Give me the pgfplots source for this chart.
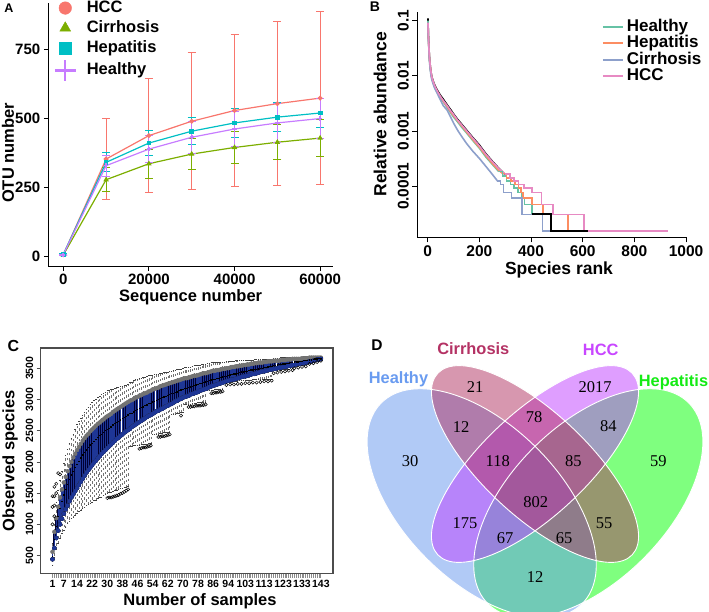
\documentclass[border=0pt]{standalone}
\usepackage{pgfplots}
\pgfplotsset{compat=1.18}
\usepackage{pgfplotstable}
\usepackage{fontspec}
\setmainfont{Liberation Sans}
\newfontfamily\timesf{Liberation Serif}
\newcommand{\fsz}[1]{\fontsize{#1}{#1}\selectfont}
\definecolor{HCCc}{HTML}{F8766D}
\definecolor{CIRc}{HTML}{7CAE00}
\definecolor{HEPc}{HTML}{00BFC4}
\definecolor{HEAc}{HTML}{C77CFF}
\definecolor{Bteal}{HTML}{66C2A5}
\definecolor{Borange}{HTML}{FC8D62}
\definecolor{Bblue}{HTML}{8DA0CB}
\definecolor{Bpink}{HTML}{E78AC3}
\definecolor{boxblue}{RGB}{30,54,150}
\definecolor{Vhea}{RGB}{100,149,237}
\definecolor{Vcir}{RGB}{176,48,96}
\definecolor{Vhcc}{RGB}{191,62,255}
\definecolor{Vhep}{RGB}{0,255,0}
\definecolor{Thea}{RGB}{105,155,240}
\definecolor{Tcir}{RGB}{180,50,100}
\definecolor{Thcc}{RGB}{200,70,255}
\definecolor{Thep}{RGB}{20,235,20}
\pgfplotsset{/pgf/number format/1000 sep={}}
\pgfplotsset{
  markleg/.style={legend image code/.code={%
    \path[draw=none, fill=none] (0pt,-6pt) rectangle (20pt,6pt);
    \draw[##1, mark size=6.3pt] plot coordinates {(10pt,0pt)};}},
  plusleg/.style={legend image code/.code={%
    \path[draw=none, fill=none] (0pt,-6pt) rectangle (20pt,6pt);
    \draw[##1, mark size=10.5pt, mark options={line width=2.2pt}] plot coordinates {(10pt,0pt)};}},
  lineleg/.style={legend image code/.code={\draw[##1, line width=2pt] (0pt,0pt) -- (20pt,0pt);}},
}

% ---------- Panel A data ----------
\pgfplotstableread{
x y e
0 5 2
10000 352 147
20000 437 206
30000 489 249
40000 528 276
50000 553 297
60000 573 313
}\tblHCC
\pgfplotstableread{
x y e
0 4 2
10000 277 43
20000 335 52
30000 370 57
40000 394 59
50000 413 63
60000 428 66
}\tblCIR
\pgfplotstableread{
x y e
0 6 2
10000 340 35
20000 410 46
30000 453 48
40000 483 52
50000 504 53
60000 519 54
}\tblHEP
\pgfplotstableread{
x y e
0 5 2
10000 328 38
20000 388 50
30000 431 58
40000 461 65
50000 483 70
60000 499 73
}\tblHEA

% ---------- Panel B data ----------
\pgfplotstableread{
r v
1 0.11
2 0.07
3 0.05
5 0.031
7 0.021
10 0.015
13 0.0115
16 0.0096
20 0.0084
25 0.0072
30 0.0064
40 0.0052
50 0.0044
60 0.0038
75 0.0030
90 0.0024
100 0.00205
115 0.00165
130 0.00136
150 0.00105
175 0.00076
200 0.00056
225 0.00039
250 0.000285
275 0.000212
300 0.000162
}\tblBkU
\pgfplotstableread{
r v
403 3.1e-5
478 1.55e-5
622 1.55e-5
}\tblBkT
\pgfplotstableread{
r v
1 0.10
2 0.066
3 0.046
5 0.028
7 0.019
10 0.0135
13 0.0105
16 0.009
20 0.0078
25 0.0066
30 0.0058
40 0.0047
50 0.0039
60 0.0034
75 0.0027
90 0.0021
100 0.0018
115 0.00148
130 0.0012
150 0.00093
175 0.00067
200 0.00049
225 0.00034
250 0.00025
275 0.000185
}\tblTeU
\pgfplotstableread{
r v
275 1.85e-4
290 1.55e-4
305 1.24e-4
320 1.085e-4
335 9.3e-5
350 7.75e-5
365 6.2e-5
375 4.65e-5
403 3.1e-5
476 1.55e-5
560 1.55e-5
}\tblTeT
\pgfplotstableread{
r v
1 0.09
2 0.063
3 0.047
5 0.029
7 0.020
10 0.0145
13 0.011
16 0.0092
20 0.008
25 0.0068
30 0.006
40 0.0049
50 0.0041
60 0.0035
75 0.0028
90 0.0022
100 0.0019
115 0.00155
130 0.00127
150 0.00097
175 0.0007
200 0.00051
225 0.00036
250 0.00026
275 0.000195
290 0.00017
}\tblOrU
\pgfplotstableread{
r v
290 1.7e-4
305 1.4e-4
322 1.24e-4
338 1.085e-4
352 9.3e-5
362 7.75e-5
370 6.2e-5
403 4.65e-5
447 3.1e-5
542 1.55e-5
620 1.55e-5
}\tblOrT
\pgfplotstableread{
r v
1 0.088
2 0.06
3 0.044
5 0.027
7 0.018
10 0.0128
13 0.010
16 0.0085
20 0.0074
25 0.0063
30 0.0056
40 0.0045
50 0.0036
60 0.0029
75 0.0024
90 0.00175
100 0.0014
115 0.00105
130 0.00082
150 0.0006
175 0.00043
200 0.00032
225 0.00023
250 0.000165
270 0.000125
}\tblBlU
\pgfplotstableread{
r v
270 1.24e-4
282 1.085e-4
293 7.75e-5
325 6.2e-5
364 3.1e-5
445 1.55e-5
478 1.55e-5
}\tblBlT
\pgfplotstableread{
r v
1 0.092
2 0.065
3 0.048
5 0.030
7 0.021
10 0.015
13 0.0115
16 0.0095
20 0.0082
25 0.0070
30 0.0062
40 0.0050
50 0.0042
60 0.0036
75 0.0029
90 0.0023
100 0.0020
115 0.0016
130 0.00132
150 0.00102
175 0.00074
200 0.00054
225 0.00038
250 0.00028
275 0.00021
300 0.000165
}\tblPiU
\pgfplotstableread{
r v
300 1.65e-4
318 1.40e-4
335 1.24e-4
352 1.085e-4
372 9.3e-5
403 7.75e-5
441 4.65e-5
486 3.1e-5
606 1.55e-5
931 1.55e-5
}\tblPiT

% ---------- Panel C data ----------
\pgfplotstableread{
n lw qa md qc uw
1 340 440 490 560 700
2 480 620 760 880 1100
3 600 780 960 1100 1350
4 700 900 1120 1280 1550
5 780 1000 1250 1430 1700
6 850 1090 1370 1560 1850
7 910 1170 1470 1670 1980
8 960 1240 1560 1760 2100
9 1010 1300 1640 1850 2200
10 1050 1370 1720 1930 2300
11 1090 1430 1790 2000 2380
12 1120 1480 1850 2070 2450
13 1150 1530 1910 2130 2530
14 1180 1580 1960 2190 2600
15 1210 1630 2010 2240 2650
16 1230 1680 2060 2290 2700
17 1260 1730 2110 2340 2750
18 1280 1780 2150 2380 2800
19 1300 1830 2190 2420 2840
20 1320 1870 2230 2450 2880
21 1340 1910 2270 2490 2920
22 1360 1950 2300 2520 2950
23 1380 1990 2330 2550 2980
24 1390 2020 2360 2580 3000
25 1410 2060 2390 2610 3030
26 1430 2090 2420 2630 3050
27 1440 2130 2440 2660 3080
28 1460 2160 2470 2680 3100
29 1480 2190 2500 2710 3120
30 1500 2220 2520 2730 3140
31 1510 2250 2540 2750 3150
32 1520 2280 2560 2770 3160
33 1530 2310 2590 2800 3170
34 1540 2340 2610 2820 3180
35 1550 2370 2630 2840 3190
36 1560 2390 2650 2860 3200
37 1570 2420 2670 2880 3210
38 1580 2440 2690 2900 3210
39 1590 2470 2710 2920 3220
40 1600 2490 2730 2940 3230
41 1610 2510 2750 2960 3250
42 2250 2530 2770 2980 3270
43 2250 2560 2780 2990 3280
44 2260 2580 2800 3010 3300
45 2260 2600 2820 3030 3320
46 2270 2620 2840 3040 3330
47 2270 2640 2850 3060 3340
48 2280 2660 2870 3070 3340
49 2280 2680 2880 3090 3350
50 2290 2700 2900 3100 3360
51 2290 2720 2910 3110 3370
52 2300 2740 2930 3130 3380
53 2300 2750 2940 3140 3380
54 2440 2770 2960 3160 3390
55 2440 2790 2970 3170 3400
56 2450 2810 2980 3180 3410
57 2450 2820 3000 3190 3410
58 2460 2840 3010 3210 3420
59 2460 2850 3030 3220 3420
60 2470 2870 3040 3230 3430
61 2470 2890 3050 3240 3440
62 2480 2900 3060 3250 3440
63 2480 2920 3080 3260 3450
64 2760 2930 3090 3270 3450
65 2770 2950 3100 3280 3460
66 2770 2970 3110 3290 3470
67 2780 2980 3120 3300 3480
68 2780 3000 3140 3310 3480
69 2790 3010 3150 3320 3490
70 2790 3030 3160 3330 3500
71 2920 3040 3170 3340 3510
72 2920 3050 3180 3340 3510
73 2930 3060 3190 3350 3520
74 2930 3080 3200 3360 3520
75 2940 3090 3210 3370 3530
76 2940 3100 3220 3380 3540
77 2940 3110 3230 3380 3540
78 2950 3120 3240 3390 3550
79 2950 3140 3250 3400 3550
80 2950 3150 3260 3410 3560
81 2960 3160 3270 3420 3570
82 2960 3170 3280 3420 3570
83 3140 3180 3290 3430 3580
84 3140 3200 3300 3440 3580
85 3150 3210 3310 3450 3590
86 3150 3220 3320 3460 3590
87 3160 3230 3320 3460 3590
88 3160 3240 3330 3470 3600
89 3160 3250 3340 3470 3600
90 3170 3260 3350 3480 3600
91 3170 3270 3360 3490 3600
92 3260 3280 3370 3490 3600
93 3260 3290 3370 3500 3610
94 3270 3300 3380 3500 3610
95 3280 3310 3390 3510 3610
96 3280 3320 3400 3520 3610
97 3290 3320 3410 3520 3610
98 3290 3330 3410 3530 3620
99 3290 3340 3420 3530 3620
100 3300 3350 3430 3540 3620
101 3300 3360 3440 3540 3620
102 3300 3370 3440 3550 3620
103 3310 3370 3450 3550 3630
104 3310 3380 3450 3560 3630
105 3310 3390 3460 3560 3630
106 3310 3400 3470 3570 3630
107 3320 3410 3470 3570 3630
108 3320 3410 3480 3580 3640
109 3320 3420 3480 3580 3640
110 3320 3430 3490 3590 3640
111 3320 3440 3500 3590 3640
112 3330 3450 3500 3590 3640
113 3330 3450 3510 3600 3650
114 3330 3460 3510 3600 3650
115 3330 3470 3520 3610 3650
116 3330 3480 3530 3610 3650
117 3330 3480 3530 3610 3650
118 3460 3490 3540 3620 3660
119 3460 3490 3540 3620 3660
120 3470 3500 3550 3620 3660
121 3470 3510 3560 3620 3660
122 3470 3510 3560 3630 3670
123 3480 3520 3570 3630 3670
124 3480 3520 3570 3630 3670
125 3490 3530 3580 3640 3670
126 3490 3540 3580 3640 3670
127 3500 3540 3590 3640 3670
128 3500 3550 3590 3650 3680
129 3530 3550 3600 3650 3680
130 3530 3560 3600 3650 3680
131 3540 3570 3600 3650 3680
132 3540 3570 3610 3650 3680
133 3550 3580 3610 3660 3680
134 3550 3580 3620 3660 3690
135 3560 3590 3620 3660 3690
136 3560 3600 3620 3660 3690
137 3590 3610 3630 3670 3690
138 3590 3610 3630 3670 3690
139 3600 3620 3640 3670 3690
140 3610 3630 3650 3670 3690
141 3620 3640 3650 3670 3690
142 3630 3640 3660 3670 3690
143 3640 3650 3660 3670 3690
}\tblC
\pgfplotstableread{
n v
1 1000
1 1280
1 1450
2 1130
2 1300
2 1450
2 1600
3 1500
3 1650
4 1820
5 1800
30 1420
31 1430
32 1430
33 1440
34 1450
35 1460
36 1470
37 1490
38 1500
39 1520
40 1540
41 1560
47 2210
48 2220
49 2230
50 2230
51 2240
52 2250
53 2260
57 2400
58 2400
59 2410
60 2410
61 2420
62 2430
63 2440
69 2740
73 2880
74 2880
75 2890
76 2890
77 2900
78 2900
79 2900
80 2910
81 2910
82 2920
85 3100
86 3100
87 3110
88 3110
89 3120
90 3120
91 3130
93 3230
95 3240
97 3240
99 3250
101 3250
103 3260
105 3260
107 3270
109 3270
111 3280
113 3290
115 3290
117 3300
118 3420
120 3430
122 3440
124 3450
126 3460
128 3470
129 3500
131 3510
133 3520
135 3530
137 3570
139 3580
141 3600
143 3620
}\tblCout

\begin{document}
\begin{tikzpicture}
\path[use as bounding box] (0pt,0pt) rectangle (709pt,-611pt);

% ================= Panel A =================
\begin{axis}[at={(48.3pt,-266pt)}, anchor=south west, scale only axis,
  width=284.7pt, height=263pt,
  xmin=-3500, xmax=63000, ymin=-36, ymax=918,
  axis x line*=bottom, axis y line*=left,
  axis line style={-, line width=1pt, black},
  xtick={0,20000,40000,60000}, ytick={0,250,500,750},
  scaled x ticks=false,
  /pgf/number format/assume math mode=true,
  tick label style={font=\bfseries\fsz{15}},
  tick align=outside, major tick length=4.5pt, tick style={line width=1pt, black},
  xlabel={Sequence number}, ylabel={OTU number},
  label style={font=\bfseries\fsz{16.5}},
  xlabel style={at={(axis description cs:0.5,-0.118)}, anchor=center},
  ylabel style={at={(axis description cs:-0.142,0.43)}, anchor=center},
  clip=false,
  legend cell align=left,
  legend style={at={(axis description cs:0.022,1.012)}, anchor=north west, draw=none, fill=none,
    font=\bfseries\fsz{16.5}, row sep=4pt, column sep=11pt, inner sep=0pt,
    nodes={inner sep=0pt, text height=12pt, text depth=4pt}},
  markleg,
]
\addlegendimage{HCCc, mark=*}
\addlegendentry{HCC}
\addlegendimage{CIRc, mark=triangle*}
\addlegendentry{Cirrhosis}
\addlegendimage{HEPc, mark=square*}
\addlegendentry{Hepatitis}
\addlegendimage{HEAc, mark=+, plusleg}
\addlegendentry{Healthy}
\addplot[HCCc, line width=1.2pt, mark=*, mark size=1.8pt, forget plot,
  error bars/.cd, y dir=both, y explicit,
  error bar style={line width=1pt}, error mark options={rotate=90, mark size=4pt, line width=1pt}]
  table[x=x, y=y, y error=e] {\tblHCC};
\addplot[CIRc, line width=1.2pt, mark=triangle*, mark size=2pt, forget plot,
  error bars/.cd, y dir=both, y explicit,
  error bar style={line width=1pt}, error mark options={rotate=90, mark size=4pt, line width=1pt}]
  table[x=x, y=y, y error=e] {\tblCIR};
\addplot[HEPc, line width=1.2pt, mark=square*, mark size=1.8pt, forget plot,
  error bars/.cd, y dir=both, y explicit,
  error bar style={line width=1pt}, error mark options={rotate=90, mark size=4pt, line width=1pt}]
  table[x=x, y=y, y error=e] {\tblHEP};
\addplot[HEAc, line width=1.2pt, mark=+, mark size=2.2pt, mark options={line width=1.6pt}, forget plot,
  error bars/.cd, y dir=both, y explicit,
  error bar style={line width=1pt}, error mark options={rotate=90, mark size=4pt, line width=1pt}]
  table[x=x, y=y, y error=e] {\tblHEA};
\end{axis}

% ================= Panel B =================
\begin{axis}[at={(417.3pt,-237.3pt)}, anchor=south west, scale only axis,
  width=269.4pt, height=225.6pt,
  xmin=-40.3, xmax=1002.7, ymode=log, ymin=1.19e-5, ymax=0.1456,
  axis x line*=bottom, axis y line*=left,
  axis line style={-, line width=1pt, black},
  xtick={0,200,400,600,800,1000},
  ytick={0.1,0.01,0.001,0.0001}, yticklabels={0.1,0.01,0.001,0.0001},
  yminorticks=false,
  /pgf/number format/assume math mode=true,
  tick label style={font=\bfseries\fsz{15.5}},
  yticklabel style={rotate=90, anchor=south},
  tick align=outside, major tick length=5pt, tick style={line width=1pt, black},
  xlabel={Species rank}, ylabel={Relative abundance},
  label style={font=\bfseries\fsz{17.5}},
  xlabel style={at={(axis description cs:0.526,-0.145)}, anchor=center},
  ylabel style={at={(axis description cs:-0.138,0.545)}, anchor=center},
  legend cell align=left,
  legend style={at={(axis description cs:0.684,0.966)}, anchor=north west, draw=none, fill=none,
    font=\bfseries\fsz{17}, row sep=1.3pt, inner sep=0pt, column sep=3pt,
    nodes={inner sep=0pt, text height=12pt, text depth=3pt}},
  lineleg,
]
\addplot[black, line width=1.6pt, forget plot] table[x=r, y=v] {\tblBkU};
\addplot[Bteal, line width=1.6pt] table[x=r, y=v] {\tblTeU};
\addlegendentry{Healthy}
\addplot[Borange, line width=1.6pt] table[x=r, y=v] {\tblOrU};
\addlegendentry{Hepatitis}
\addplot[Bblue, line width=1.6pt] table[x=r, y=v] {\tblBlU};
\addlegendentry{Cirrhosis}
\addplot[Bpink, line width=1.6pt] table[x=r, y=v] {\tblPiU};
\addlegendentry{HCC}
\addplot[Bteal, line width=1.6pt, const plot, forget plot] table[x=r, y=v] {\tblTeT};
\addplot[Borange, line width=1.6pt, const plot, forget plot] table[x=r, y=v] {\tblOrT};
\addplot[Bblue, line width=1.6pt, const plot, forget plot] table[x=r, y=v] {\tblBlT};
\addplot[Bpink, line width=1.6pt, const plot, forget plot] table[x=r, y=v] {\tblPiT};
\addplot[black, line width=2.2pt, const plot, forget plot] table[x=r, y=v] {\tblBkT};
\end{axis}

% ================= Panel C =================
\begin{axis}[at={(40.7pt,-573.5pt)}, anchor=south west, scale only axis,
  width=292.3pt, height=225.5pt,
  xmin=-5.24, xmax=149.4, ymin=212, ymax=3824,
  axis line style={line width=1.2pt, black!70},
  tick pos=left, clip=false,
  xtick=\empty,
  extra x ticks={1,7,14,22,30,38,46,54,62,70,78,86,94,103,113,123,133,143},
  extra x tick labels={1,7,14,22,30,38,46,54,62,70,78,86,94,103,113,123,133,143},
  extra x tick style={major tick length=0pt, xticklabel style={font=\bfseries\fsz{10.5}, yshift=-3pt}},
  ytick={500,1000,1500,2000,2500,3000,3500},
  /pgf/number format/assume math mode=true,
  yticklabel style={rotate=90, anchor=south, font=\bfseries\fsz{10.5}},
  tick align=outside, major tick length=4pt, tick style={line width=0.5pt, black!70},
  xlabel={Number of samples}, ylabel={Observed species},
  label style={font=\bfseries\fsz{16.5}},
  xlabel style={at={(axis description cs:0.545,-0.125)}, anchor=center},
  ylabel style={at={(axis description cs:-0.105,0.5)}, anchor=center},
]
% tick marks at every box position, just below the frame
\addplot[only marks, mark=|, mark size=2.4pt, mark options={line width=0.95pt, black!45}, forget plot]
  table[x=n, y expr=172] {\tblC};
% lower whiskers
\addplot[only marks, mark=none, black!55, forget plot,
  error bars/.cd, y dir=minus, y explicit,
  error bar style={dash pattern=on 2.4pt off 3pt, line width=0.55pt, black!55},
  error mark options={rotate=90, mark size=0.76pt, solid, line width=0.55pt, black!75}]
  table[x=n, y=qa, y error minus expr=\thisrow{qa}-\thisrow{lw}] {\tblC};
% upper whiskers
\addplot[only marks, mark=none, black!55, forget plot,
  error bars/.cd, y dir=plus, y explicit,
  error bar style={dash pattern=on 2.4pt off 3pt, line width=0.55pt, black!55},
  error mark options={rotate=90, mark size=0.76pt, solid, line width=0.55pt, black!75}]
  table[x=n, y=qc, y error plus expr=\thisrow{uw}-\thisrow{qc}] {\tblC};
% boxes: black outline then blue fill
\addplot[only marks, mark=none, black, forget plot,
  error bars/.cd, y dir=plus, y explicit, error mark=none,
  error bar style={solid, line width=1.85pt, black!80!blue}]
  table[x=n, y=qa, y error plus expr=\thisrow{qc}-\thisrow{qa}] {\tblC};
\addplot[only marks, mark=none, boxblue, forget plot,
  error bars/.cd, y dir=plus, y explicit, error mark=none,
  error bar style={solid, line width=1.25pt, boxblue}]
  table[x=n, y=qa, y error plus expr=\thisrow{qc}-\thisrow{qa}] {\tblC};
% medians
\addplot[only marks, mark=-, mark size=0.8pt, mark options={line width=1.3pt, black}]
  table[x=n, y=md] {\tblC};
% outliers
\addplot[only marks, mark=o, mark size=1.6pt, mark options={line width=0.5pt, black}]
  table[x=n, y=v] {\tblCout};
\end{axis}

% ================= Panel D =================
\begin{axis}[at={(360pt,-611pt)}, anchor=south west, scale only axis,
  width=349pt, height=311pt, xmin=360, xmax=709, ymin=-611, ymax=-300,
  hide axis, clip=true]
\fill[Vhep, fill opacity=0.5, rotate around={45:(axis cs:588.3,-503.3)}]
  (axis cs:588.3,-503.3) ellipse [x radius=142pt, y radius=78pt];
\fill[Vhea, fill opacity=0.5, rotate around={-45:(axis cs:481.7,-503.3)}]
  (axis cs:481.7,-503.3) ellipse [x radius=142pt, y radius=78pt];
\fill[Vhcc, fill opacity=0.5, rotate around={43:(axis cs:535,-464)}]
  (axis cs:535,-464) ellipse [x radius=133pt, y radius=52pt];
\fill[Vcir, fill opacity=0.5, rotate around={-43:(axis cs:535,-464)}]
  (axis cs:535,-464) ellipse [x radius=133pt, y radius=52pt];
\draw[white, line width=0.9pt, rotate around={45:(axis cs:588.3,-503.3)}]
  (axis cs:588.3,-503.3) ellipse [x radius=142pt, y radius=78pt];
\draw[white, line width=0.9pt, rotate around={-45:(axis cs:481.7,-503.3)}]
  (axis cs:481.7,-503.3) ellipse [x radius=142pt, y radius=78pt];
\draw[white, line width=0.9pt, rotate around={43:(axis cs:535,-464)}]
  (axis cs:535,-464) ellipse [x radius=133pt, y radius=52pt];
\draw[white, line width=0.9pt, rotate around={-43:(axis cs:535,-464)}]
  (axis cs:535,-464) ellipse [x radius=133pt, y radius=52pt];
\begin{scope}[every node/.style={font=\timesf\fsz{16.5}, text=black}]
\node at (axis cs:475,-387.3) {21};
\node at (axis cs:595,-387.3) {2017};
\node at (axis cs:461,-426.7) {12};
\node at (axis cs:534,-417.3) {78};
\node at (axis cs:608.3,-426) {84};
\node at (axis cs:410,-460.7) {30};
\node at (axis cs:497.7,-460.7) {118};
\node at (axis cs:573.3,-460.7) {85};
\node at (axis cs:658.3,-460.7) {59};
\node at (axis cs:535.7,-501.7) {802};
\node at (axis cs:465,-522.7) {175};
\node at (axis cs:604,-522.7) {55};
\node at (axis cs:505,-537.7) {67};
\node at (axis cs:564,-537.7) {65};
\node at (axis cs:535,-576.7) {12};
\end{scope}
\end{axis}
\node[font=\bfseries\fsz{16.4}, text=Thea] at (398.5pt,-379.3pt) {Healthy};
\node[font=\bfseries\fsz{16.4}, text=Tcir] at (473.3pt,-348.3pt) {Cirrhosis};
\node[font=\bfseries\fsz{16.4}, text=Thcc] at (600.7pt,-350pt) {HCC};
\node[font=\bfseries\fsz{16.4}, text=Thep] at (673.5pt,-382.7pt) {Hepatitis};

% panel letters
\node[font=\bfseries\fsz{12.5}] at (9pt,-8.5pt) {A};
\node[font=\bfseries\fsz{14}] at (375pt,-7pt) {B};
\node[font=\bfseries\fsz{16}] at (13.5pt,-345.5pt) {C};
\node[font=\bfseries\fsz{15.5}] at (377pt,-345pt) {D};
\end{tikzpicture}
\end{document}
